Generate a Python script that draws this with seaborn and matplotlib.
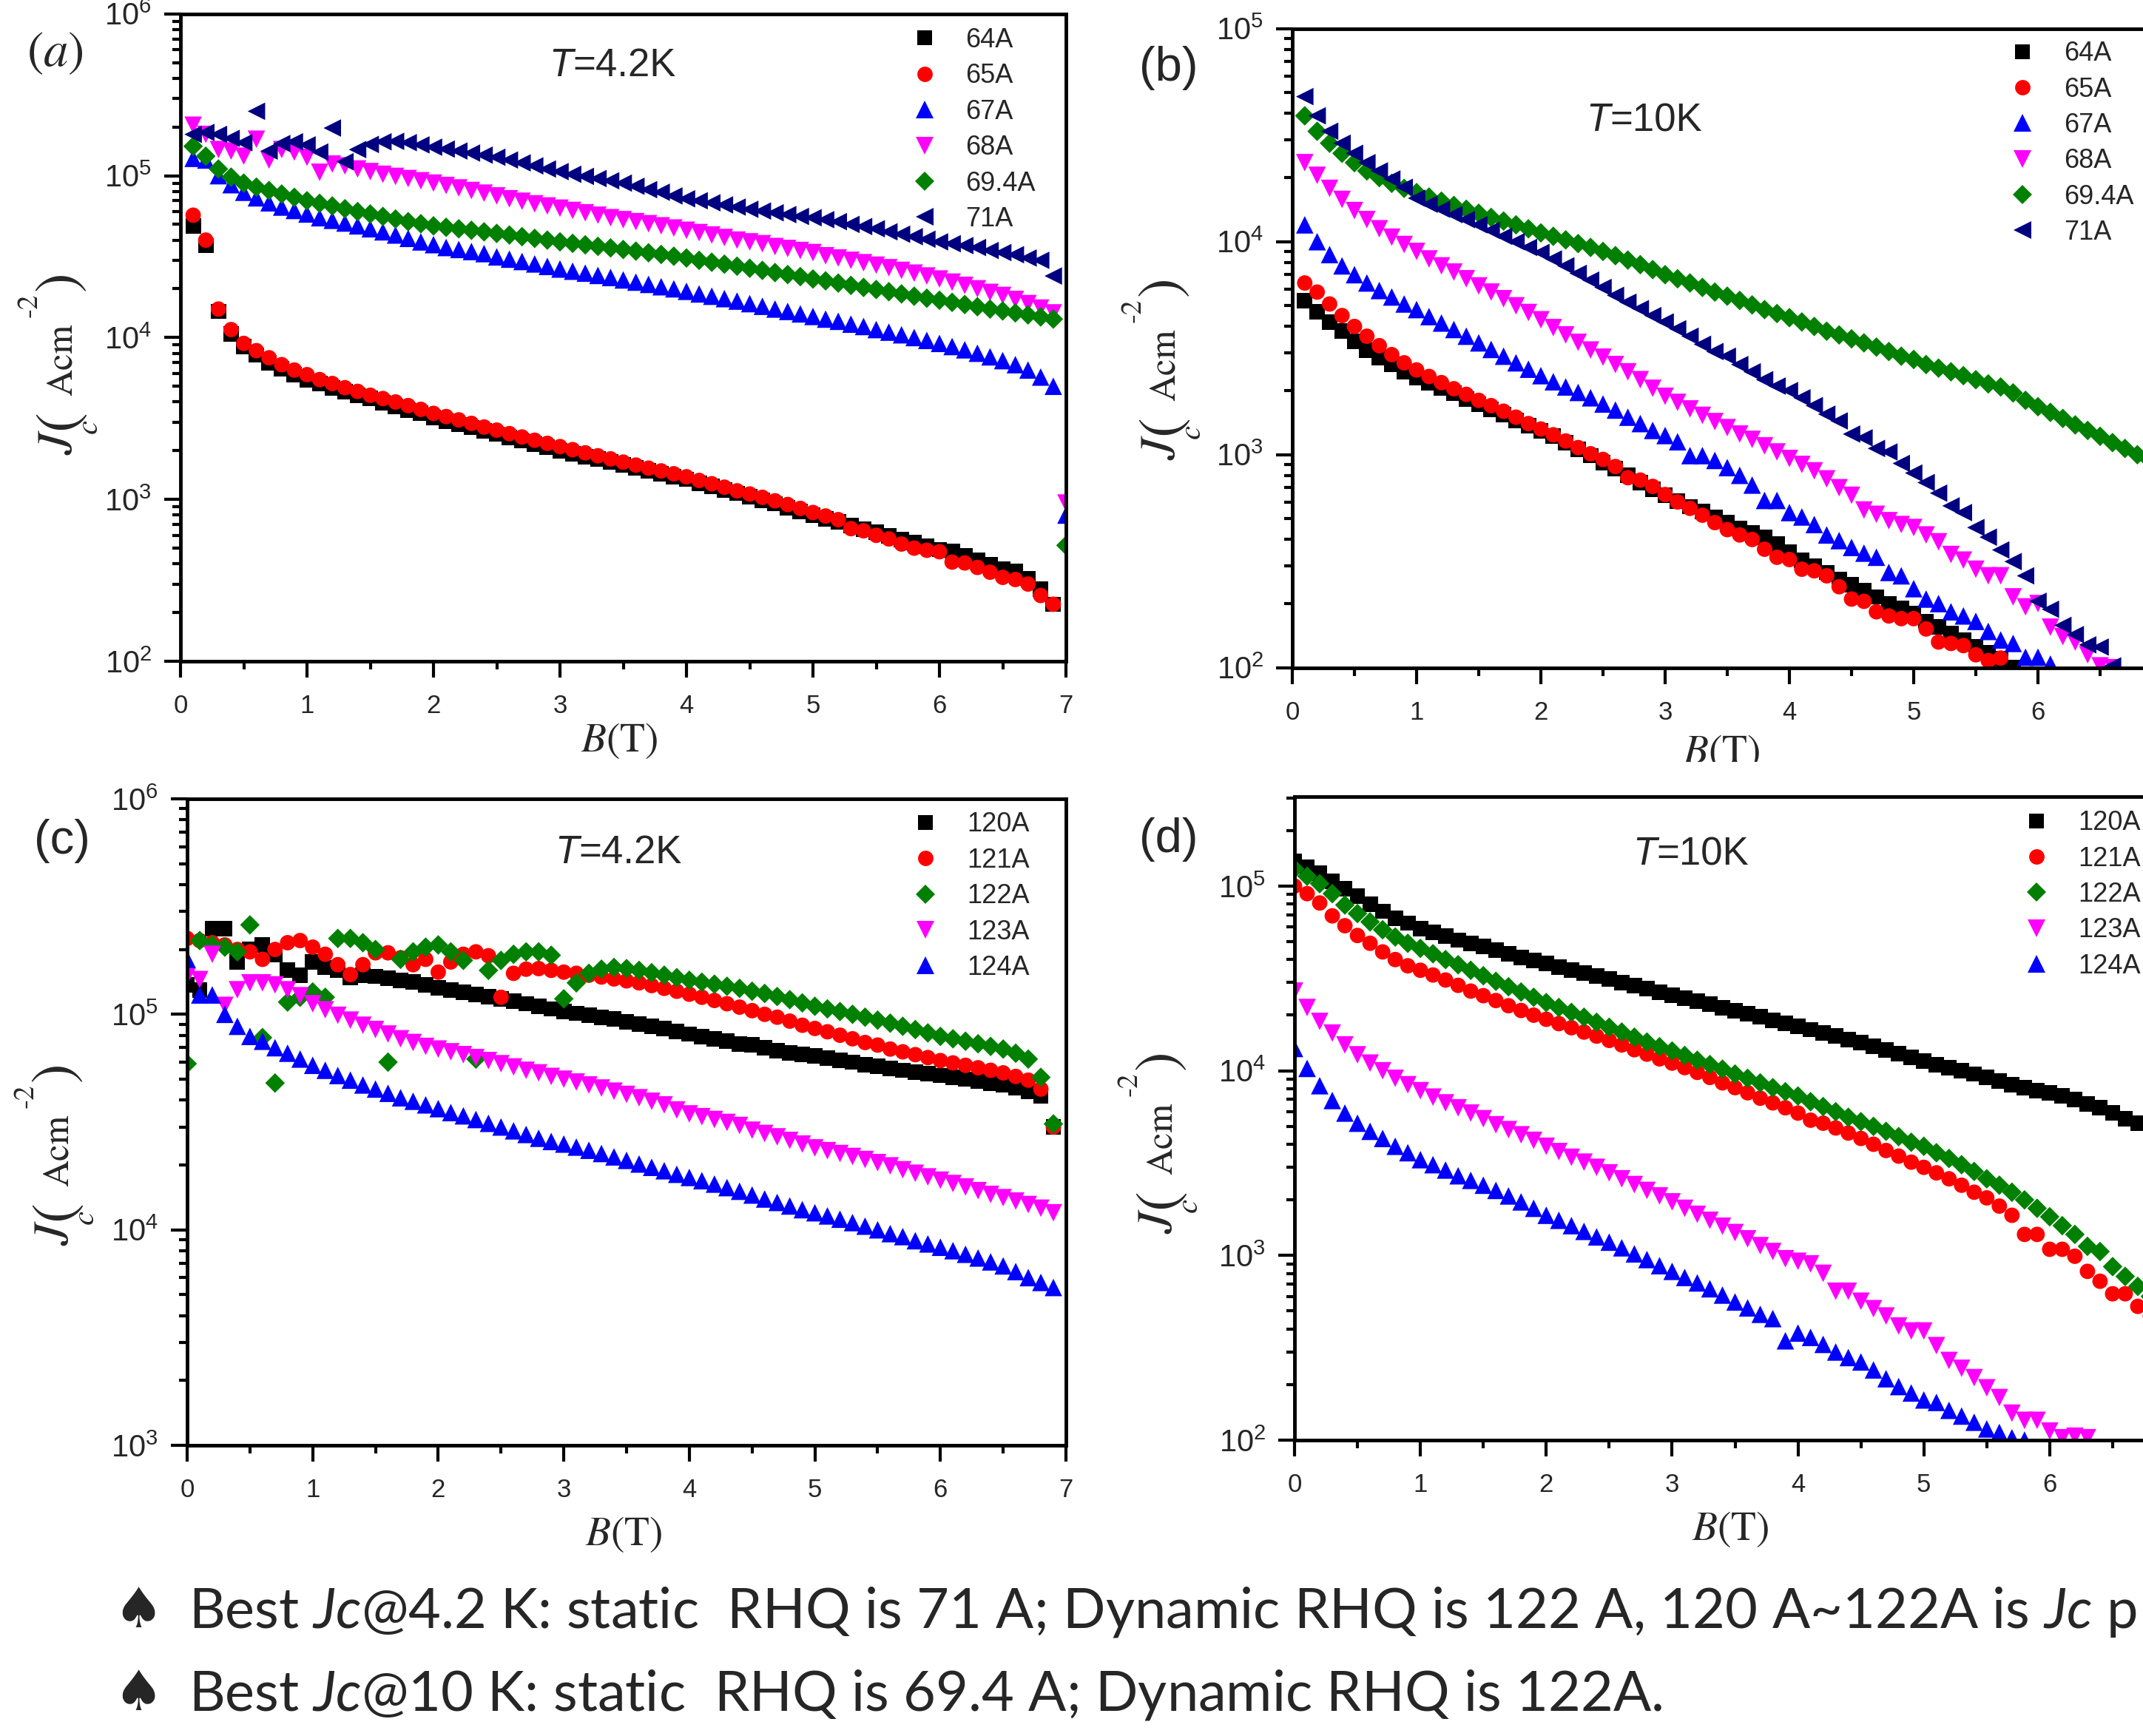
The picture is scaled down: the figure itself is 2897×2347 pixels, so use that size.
import numpy as np
import pandas as pd
import matplotlib
matplotlib.use('Agg')
import matplotlib.pyplot as plt
import seaborn as sns
from matplotlib.lines import Line2D
from matplotlib.patches import Rectangle
from matplotlib.ticker import MultipleLocator, LogLocator, NullFormatter, FixedFormatter, FixedLocator

W, H = 2897, 2347

# ---------------- data (Jc in A/cm^2, B step 0.1 T) ----------------
# panel (a): static RHQ, T = 4.2 K, B starts at 0.1 T
a_start = 0.1
a_64 = [4.9e4, 3.7e4, 1.45e4, 1.05e4, 8.8e3, 7.8e3, 7.0e3, 6.4e3, 5.9e3, 5.5e3,
        5.2e3, 4.9e3, 4.65e3, 4.4e3, 4.2e3, 3.95e3, 3.75e3, 3.55e3, 3.4e3, 3.2e3,
        3.05e3, 2.9e3, 2.78e3, 2.65e3, 2.53e3, 2.42e3, 2.3e3, 2.2e3, 2.1e3, 2.0e3,
        1.92e3, 1.84e3, 1.77e3, 1.7e3, 1.63e3, 1.56e3, 1.5e3, 1.44e3, 1.38e3, 1.33e3,
        1.26e3, 1.2e3, 1.14e3, 1.09e3, 1.04e3, 990, 940, 890, 845, 800,
        760, 725, 690, 655, 625, 595, 565, 540, 515, 490,
        480, 450, 420, 395, 370, 360, 325, 280, 225]
a_65 = [5.7e4, 4.0e4, 1.5e4, 1.12e4, 9.2e3, 8.3e3, 7.5e3, 6.8e3, 6.3e3, 5.9e3,
        5.5e3, 5.2e3, 4.9e3, 4.65e3, 4.4e3, 4.2e3, 4.0e3, 3.8e3, 3.6e3, 3.4e3,
        3.25e3, 3.1e3, 2.95e3, 2.8e3, 2.68e3, 2.55e3, 2.43e3, 2.32e3, 2.22e3, 2.12e3,
        2.03e3, 1.94e3, 1.86e3, 1.78e3, 1.7e3, 1.63e3, 1.56e3, 1.5e3, 1.44e3, 1.38e3,
        1.31e3, 1.25e3, 1.19e3, 1.13e3, 1.08e3, 1.03e3, 980, 930, 880, 830,
        790, 750, 660, 640, 600, 570, 530, 500, 485, 475,
        410, 405, 380, 355, 330, 320, 300, 255, 225]
a_67 = [1.28e5, 1.25e5, 1.0e5, 8.8e4, 7.9e4, 7.3e4, 6.8e4, 6.4e4, 6.1e4, 5.8e4,
        5.5e4, 5.3e4, 5.1e4, 4.9e4, 4.7e4, 4.5e4, 4.3e4, 4.1e4, 3.9e4, 3.75e4,
        3.6e4, 3.5e4, 3.4e4, 3.3e4, 3.15e4, 3.05e4, 2.95e4, 2.85e4, 2.75e4, 2.65e4,
        2.57e4, 2.5e4, 2.42e4, 2.35e4, 2.27e4, 2.2e4, 2.13e4, 2.06e4, 2.0e4, 1.93e4,
        1.86e4, 1.8e4, 1.74e4, 1.68e4, 1.62e4, 1.56e4, 1.5e4, 1.45e4, 1.4e4, 1.35e4,
        1.3e4, 1.26e4, 1.21e4, 1.17e4, 1.12e4, 1.08e4, 1.04e4, 1.0e4, 9.6e3, 9.2e3,
        8.8e3, 8.4e3, 8.0e3, 7.6e3, 7.2e3, 6.8e3, 6.3e3, 5.7e3, 5.0e3, 800]
a_68 = [2.05e5, 1.8e5, 1.45e5, 1.42e5, 1.32e5, 1.68e5, 1.25e5, 1.45e5, 1.4e5, 1.3e5,
        1.05e5, 1.18e5, 1.15e5, 1.1e5, 1.06e5, 1.02e5, 9.9e4, 9.6e4, 9.3e4, 9.0e4,
        8.7e4, 8.4e4, 8.1e4, 7.8e4, 7.5e4, 7.2e4, 6.95e4, 6.7e4, 6.5e4, 6.3e4,
        6.1e4, 5.9e4, 5.7e4, 5.5e4, 5.35e4, 5.2e4, 5.05e4, 4.9e4, 4.75e4, 4.6e4,
        4.45e4, 4.3e4, 4.15e4, 4.0e4, 3.9e4, 3.8e4, 3.65e4, 3.55e4, 3.45e4, 3.35e4,
        3.2e4, 3.1e4, 3.0e4, 2.9e4, 2.8e4, 2.7e4, 2.6e4, 2.5e4, 2.4e4, 2.3e4,
        2.2e4, 2.1e4, 2.0e4, 1.9e4, 1.82e4, 1.72e4, 1.62e4, 1.52e4, 1.42e4, 950]
a_694 = [1.52e5, 1.32e5, 1.1e5, 9.8e4, 9.0e4, 8.5e4, 8.1e4, 7.7e4, 7.35e4, 7.0e4,
         6.75e4, 6.5e4, 6.25e4, 6.0e4, 5.8e4, 5.6e4, 5.4e4, 5.2e4, 5.05e4, 4.9e4,
         4.8e4, 4.7e4, 4.6e4, 4.5e4, 4.4e4, 4.3e4, 4.2e4, 4.1e4, 4.0e4, 3.9e4,
         3.82e4, 3.74e4, 3.66e4, 3.58e4, 3.5e4, 3.42e4, 3.34e4, 3.26e4, 3.18e4, 3.1e4,
         3.0e4, 2.92e4, 2.84e4, 2.76e4, 2.68e4, 2.6e4, 2.52e4, 2.45e4, 2.38e4, 2.3e4,
         2.24e4, 2.17e4, 2.1e4, 2.04e4, 1.98e4, 1.92e4, 1.86e4, 1.8e4, 1.75e4, 1.7e4,
         1.65e4, 1.6e4, 1.55e4, 1.5e4, 1.46e4, 1.42e4, 1.38e4, 1.34e4, 1.3e4, 520]
a_71 = [1.8e5, 1.85e5, 1.8e5, 1.7e5, 1.6e5, 2.5e5, 1.42e5, 1.58e5, 1.62e5, 1.55e5,
        1.4e5, 1.97e5, 1.22e5, 1.45e5, 1.56e5, 1.62e5, 1.63e5, 1.6e5, 1.55e5, 1.5e5,
        1.46e5, 1.42e5, 1.38e5, 1.34e5, 1.3e5, 1.25e5, 1.2e5, 1.15e5, 1.1e5, 1.06e5,
        1.02e5, 9.9e4, 9.6e4, 9.3e4, 9.0e4, 8.6e4, 8.2e4, 7.9e4, 7.5e4, 7.2e4,
        7.0e4, 6.8e4, 6.6e4, 6.4e4, 6.2e4, 6.05e4, 5.9e4, 5.75e4, 5.6e4, 5.5e4,
        5.35e4, 5.2e4, 5.0e4, 4.85e4, 4.7e4, 4.5e4, 4.35e4, 4.2e4, 4.05e4, 3.9e4,
        3.8e4, 3.7e4, 3.6e4, 3.45e4, 3.35e4, 3.25e4, 3.1e4, 3.0e4, 2.4e4]

# panel (b): static RHQ, T = 10 K, B starts at 0.1 T
b_start = 0.1
b_64 = [5.3e3, 4.7e3, 4.2e3, 3.8e3, 3.4e3, 3.1e3, 2.85e3, 2.65e3, 2.45e3, 2.3e3,
        2.17e3, 2.05e3, 1.94e3, 1.83e3, 1.73e3, 1.63e3, 1.54e3, 1.45e3, 1.37e3, 1.29e3,
        1.22e3, 1.14e3, 1.06e3, 990, 920, 860, 800, 740, 690, 645,
        605, 570, 540, 510, 480, 450, 430, 410, 380, 350,
        320, 300, 280, 260, 245, 230, 215, 200, 190, 180,
        165, 155, 145, 135, 125, 118, 110, 100]
b_65 = [6.4e3, 5.8e3, 5.1e3, 4.5e3, 4.0e3, 3.6e3, 3.25e3, 2.95e3, 2.7e3, 2.5e3,
        2.33e3, 2.18e3, 2.04e3, 1.92e3, 1.8e3, 1.7e3, 1.6e3, 1.5e3, 1.4e3, 1.32e3,
        1.24e3, 1.16e3, 1.08e3, 1.01e3, 950, 880, 780, 760, 710, 650,
        600, 560, 520, 480, 445, 420, 400, 360, 330, 322,
        290, 285, 270, 240, 210, 205, 183, 175, 170, 170,
        152, 132, 130, 127, 115, 108, 111]
b_67 = [1.2e4, 1.0e4, 8.7e3, 7.7e3, 7.0e3, 6.4e3, 5.9e3, 5.5e3, 5.1e3, 4.8e3,
        4.45e3, 4.15e3, 3.87e3, 3.6e3, 3.35e3, 3.12e3, 2.9e3, 2.7e3, 2.52e3, 2.35e3,
        2.2e3, 2.08e3, 1.96e3, 1.85e3, 1.73e3, 1.62e3, 1.5e3, 1.4e3, 1.3e3, 1.23e3,
        1.15e3, 990, 990, 940, 870, 800, 720, 610, 610, 535,
        510, 470, 420, 395, 367, 345, 330, 280, 270, 235,
        210, 200, 183, 175, 165, 148, 135, 130, 112, 112,
        104]
b_68 = [2.35e4, 2.05e4, 1.78e4, 1.58e4, 1.4e4, 1.27e4, 1.15e4, 1.05e4, 9.7e3, 9.0e3,
        8.3e3, 7.7e3, 7.2e3, 6.7e3, 6.2e3, 5.8e3, 5.4e3, 5.0e3, 4.65e3, 4.3e3,
        3.95e3, 3.65e3, 3.37e3, 3.1e3, 2.87e3, 2.65e3, 2.45e3, 2.25e3, 2.05e3, 1.88e3,
        1.76e3, 1.64e3, 1.53e3, 1.43e3, 1.34e3, 1.25e3, 1.18e3, 1.1e3, 1.03e3, 960,
        900, 840, 770, 700, 645, 550, 525, 490, 470, 455,
        420, 390, 340, 320, 290, 270, 270, 215, 193, 200,
        155, 140, 132, 115, 102, 100]
b_694 = [3.9e4, 3.3e4, 2.9e4, 2.6e4, 2.35e4, 2.15e4, 2.0e4, 1.88e4, 1.78e4, 1.7e4,
         1.62e4, 1.55e4, 1.48e4, 1.42e4, 1.36e4, 1.3e4, 1.25e4, 1.2e4, 1.15e4, 1.1e4,
         1.06e4, 1.02e4, 9.8e3, 9.4e3, 9.0e3, 8.6e3, 8.2e3, 7.8e3, 7.4e3, 7.0e3,
         6.7e3, 6.4e3, 6.1e3, 5.8e3, 5.55e3, 5.3e3, 5.05e3, 4.8e3, 4.6e3, 4.4e3,
         4.2e3, 4.0e3, 3.8e3, 3.65e3, 3.5e3, 3.35e3, 3.2e3, 3.05e3, 2.9e3, 2.8e3,
         2.65e3, 2.55e3, 2.45e3, 2.35e3, 2.25e3, 2.15e3, 2.08e3, 1.95e3, 1.8e3, 1.68e3,
         1.58e3, 1.48e3, 1.38e3, 1.3e3, 1.22e3, 1.14e3, 1.07e3, 1.0e3, 940]
b_71 = [4.8e4, 3.9e4, 3.3e4, 2.9e4, 2.6e4, 2.35e4, 2.15e4, 1.97e4, 1.8e4, 1.6e4,
        1.5e4, 1.42e4, 1.34e4, 1.27e4, 1.2e4, 1.13e4, 1.06e4, 1.0e4, 9.4e3, 8.9e3,
        8.3e3, 7.7e3, 7.1e3, 6.6e3, 6.1e3, 5.6e3, 5.2e3, 4.85e3, 4.5e3, 4.2e3,
        3.9e3, 3.6e3, 3.3e3, 3.05e3, 2.9e3, 2.65e3, 2.45e3, 2.25e3, 2.1e3, 2.0e3,
        1.85e3, 1.7e3, 1.55e3, 1.44e3, 1.25e3, 1.2e3, 1.07e3, 1.03e3, 910, 820,
        740, 660, 575, 535, 455, 410, 357, 315, 270, 205,
        188, 158, 143, 128, 125, 102]

# panel (c): dynamic RHQ, T = 4.2 K, B starts at 0 T
c_start = 0.0
c_120 = [1.37e5, 1.3e5, 2.5e5, 2.5e5, 1.75e5, 2.0e5, 2.1e5, 1.9e5, 1.6e5, 1.52e5,
         1.75e5, 1.65e5, 1.6e5, 1.48e5, 1.52e5, 1.5e5, 1.47e5, 1.44e5, 1.41e5, 1.37e5,
         1.33e5, 1.3e5, 1.27e5, 1.24e5, 1.21e5, 1.18e5, 1.15e5, 1.12e5, 1.09e5, 1.06e5,
         1.03e5, 1.01e5, 9.9e4, 9.7e4, 9.5e4, 9.2e4, 9.0e4, 8.8e4, 8.6e4, 8.3e4,
         8.1e4, 7.9e4, 7.7e4, 7.5e4, 7.3e4, 7.2e4, 7.0e4, 6.8e4, 6.6e4, 6.5e4,
         6.4e4, 6.25e4, 6.1e4, 6.0e4, 5.85e4, 5.75e4, 5.6e4, 5.5e4, 5.4e4, 5.3e4,
         5.2e4, 5.1e4, 5.0e4, 4.9e4, 4.8e4, 4.7e4, 4.55e4, 4.4e4, 4.2e4, 3.0e4]
c_121 = [2.25e5, 2.2e5, 2.15e5, 2.1e5, 2.0e5, 1.95e5, 1.8e5, 2.0e5, 2.15e5, 2.2e5,
         2.05e5, 1.9e5, 1.7e5, 1.53e5, 1.7e5, 1.93e5, 1.93e5, 1.83e5, 1.7e5, 1.8e5,
         1.57e5, 1.75e5, 1.9e5, 1.95e5, 1.87e5, 1.2e5, 1.55e5, 1.62e5, 1.63e5, 1.6e5,
         1.57e5, 1.55e5, 1.52e5, 1.49e5, 1.46e5, 1.43e5, 1.4e5, 1.36e5, 1.32e5, 1.28e5,
         1.24e5, 1.2e5, 1.16e5, 1.12e5, 1.08e5, 1.04e5, 1.0e5, 9.7e4, 9.3e4, 8.9e4,
         8.6e4, 8.3e4, 8.0e4, 7.7e4, 7.4e4, 7.2e4, 6.9e4, 6.7e4, 6.5e4, 6.3e4,
         6.1e4, 5.95e4, 5.8e4, 5.65e4, 5.5e4, 5.35e4, 5.15e4, 4.95e4, 4.5e4, 3.0e4]
c_122 = [5.9e4, 2.2e5, 2.1e5, 2.05e5, 1.95e5, 2.6e5, 7.8e4, 4.8e4, 1.14e5, 1.2e5,
         1.27e5, 1.2e5, 2.25e5, 2.25e5, 2.15e5, 2.0e5, 6.0e4, 1.8e5, 1.95e5, 2.05e5,
         2.1e5, 1.95e5, 1.78e5, 6.2e4, 1.6e5, 1.78e5, 1.9e5, 1.95e5, 1.95e5, 1.88e5,
         1.18e5, 1.4e5, 1.55e5, 1.62e5, 1.65e5, 1.63e5, 1.6e5, 1.56e5, 1.52e5, 1.48e5,
         1.44e5, 1.41e5, 1.38e5, 1.35e5, 1.32e5, 1.28e5, 1.25e5, 1.21e5, 1.17e5, 1.13e5,
         1.09e5, 1.06e5, 1.03e5, 1.0e5, 9.7e4, 9.4e4, 9.1e4, 8.8e4, 8.5e4, 8.2e4,
         7.9e4, 7.7e4, 7.5e4, 7.3e4, 7.1e4, 6.9e4, 6.6e4, 6.2e4, 5.1e4, 3.1e4]
c_123 = [1.5e5, 1.45e5, 1.9e5, 1.1e5, 1.3e5, 1.4e5, 1.4e5, 1.37e5, 1.3e5, 1.22e5,
         1.12e5, 1.05e5, 9.9e4, 9.4e4, 8.9e4, 8.5e4, 8.1e4, 7.7e4, 7.4e4, 7.1e4,
         6.9e4, 6.7e4, 6.5e4, 6.3e4, 6.1e4, 5.9e4, 5.7e4, 5.5e4, 5.35e4, 5.15e4,
         5.0e4, 4.85e4, 4.7e4, 4.55e4, 4.4e4, 4.25e4, 4.1e4, 3.95e4, 3.8e4, 3.6e4,
         3.45e4, 3.35e4, 3.25e4, 3.15e4, 3.05e4, 2.9e4, 2.8e4, 2.7e4, 2.6e4, 2.5e4,
         2.4e4, 2.33e4, 2.26e4, 2.19e4, 2.12e4, 2.05e4, 1.98e4, 1.9e4, 1.83e4, 1.76e4,
         1.7e4, 1.64e4, 1.58e4, 1.52e4, 1.46e4, 1.41e4, 1.36e4, 1.31e4, 1.26e4, 1.2e4]
c_124 = [1.8e5, 1.23e5, 1.23e5, 1.0e5, 8.8e4, 7.9e4, 7.5e4, 7.0e4, 6.6e4, 6.2e4,
         5.8e4, 5.5e4, 5.2e4, 4.95e4, 4.7e4, 4.5e4, 4.3e4, 4.1e4, 3.95e4, 3.8e4,
         3.65e4, 3.5e4, 3.38e4, 3.25e4, 3.12e4, 3.0e4, 2.88e4, 2.77e4, 2.66e4, 2.57e4,
         2.5e4, 2.42e4, 2.34e4, 2.26e4, 2.18e4, 2.1e4, 2.02e4, 1.95e4, 1.88e4, 1.81e4,
         1.75e4, 1.69e4, 1.63e4, 1.57e4, 1.51e4, 1.45e4, 1.39e4, 1.34e4, 1.29e4, 1.24e4,
         1.2e4, 1.16e4, 1.12e4, 1.08e4, 1.04e4, 1.0e4, 9.6e3, 9.3e3, 8.9e3, 8.6e3,
         8.3e3, 8.0e3, 7.7e3, 7.4e3, 7.1e3, 6.8e3, 6.4e3, 6.0e3, 5.7e3, 5.4e3]

# panel (d): dynamic RHQ, T = 10 K, B starts at 0 T
d_start = 0.0
d_120 = [1.36e5, 1.26e5, 1.17e5, 1.06e5, 9.7e4, 8.8e4, 8.0e4, 7.3e4, 6.7e4, 6.3e4,
         5.9e4, 5.6e4, 5.35e4, 5.1e4, 4.9e4, 4.7e4, 4.5e4, 4.3e4, 4.1e4, 3.95e4,
         3.8e4, 3.65e4, 3.5e4, 3.37e4, 3.25e4, 3.13e4, 3.0e4, 2.9e4, 2.78e4, 2.67e4,
         2.57e4, 2.47e4, 2.38e4, 2.29e4, 2.2e4, 2.12e4, 2.04e4, 1.96e4, 1.88e4, 1.81e4,
         1.74e4, 1.67e4, 1.6e4, 1.54e4, 1.48e4, 1.42e4, 1.36e4, 1.3e4, 1.24e4, 1.18e4,
         1.13e4, 1.08e4, 1.04e4, 1.0e4, 9.6e3, 9.2e3, 8.8e3, 8.4e3, 8.1e3, 7.8e3,
         7.6e3, 7.3e3, 7.0e3, 6.6e3, 6.3e3, 5.9e3, 5.5e3, 5.2e3, 4.9e3, 4.6e3, 4.3e3]
d_121 = [1.0e5, 9.1e4, 8.1e4, 6.9e4, 6.1e4, 5.4e4, 4.9e4, 4.4e4, 4.0e4, 3.7e4,
         3.5e4, 3.3e4, 3.1e4, 2.9e4, 2.7e4, 2.55e4, 2.4e4, 2.25e4, 2.12e4, 2.0e4,
         1.9e4, 1.8e4, 1.71e4, 1.62e4, 1.54e4, 1.46e4, 1.38e4, 1.3e4, 1.23e4, 1.16e4,
         1.1e4, 1.04e4, 9.8e3, 9.2e3, 8.6e3, 8.1e3, 7.6e3, 7.1e3, 6.7e3, 6.3e3,
         5.9e3, 5.4e3, 5.2e3, 4.9e3, 4.6e3, 4.3e3, 4.0e3, 3.7e3, 3.45e3, 3.2e3,
         3.0e3, 2.8e3, 2.6e3, 2.4e3, 2.2e3, 2.05e3, 1.85e3, 1.65e3, 1.3e3, 1.3e3,
         1.08e3, 1.08e3, 990, 820, 725, 620, 620, 530, 470, 420]
d_122 = [1.24e5, 1.13e5, 1.03e5, 9.1e4, 7.9e4, 7.1e4, 6.4e4, 5.8e4, 5.3e4, 4.9e4,
         4.6e4, 4.3e4, 4.0e4, 3.75e4, 3.5e4, 3.27e4, 3.05e4, 2.85e4, 2.67e4, 2.5e4,
         2.34e4, 2.2e4, 2.07e4, 1.95e4, 1.83e4, 1.72e4, 1.62e4, 1.52e4, 1.43e4, 1.35e4,
         1.28e4, 1.21e4, 1.14e4, 1.08e4, 1.02e4, 9.6e3, 9.1e3, 8.6e3, 8.1e3, 7.7e3,
         7.3e3, 6.8e3, 6.4e3, 6.0e3, 5.6e3, 5.3e3, 5.0e3, 4.7e3, 4.4e3, 4.1e3,
         3.9e3, 3.6e3, 3.35e3, 3.1e3, 2.85e3, 2.6e3, 2.4e3, 2.2e3, 2.0e3, 1.8e3,
         1.62e3, 1.45e3, 1.3e3, 1.12e3, 1.05e3, 870, 770, 680, 600, 530]
d_123 = [2.7e4, 2.2e4, 1.85e4, 1.6e4, 1.38e4, 1.22e4, 1.1e4, 1.0e4, 9.1e3, 8.4e3,
         7.8e3, 7.2e3, 6.7e3, 6.3e3, 5.9e3, 5.5e3, 5.1e3, 4.8e3, 4.5e3, 4.2e3,
         3.9e3, 3.65e3, 3.4e3, 3.2e3, 3.0e3, 2.8e3, 2.6e3, 2.42e3, 2.25e3, 2.1e3,
         1.95e3, 1.8e3, 1.67e3, 1.55e3, 1.44e3, 1.33e3, 1.23e3, 1.13e3, 1.05e3, 960,
         930, 900, 800, 640, 640, 565, 515, 470, 415, 390,
         390, 325, 270, 245, 218, 192, 170, 140, 128, 128,
         112, 103, 105, 103]
d_124 = [1.32e4, 1.03e4, 8.3e3, 6.9e3, 5.9e3, 5.2e3, 4.7e3, 4.3e3, 3.9e3, 3.6e3,
         3.3e3, 3.1e3, 2.9e3, 2.7e3, 2.55e3, 2.4e3, 2.25e3, 2.1e3, 1.95e3, 1.8e3,
         1.65e3, 1.55e3, 1.45e3, 1.35e3, 1.26e3, 1.18e3, 1.1e3, 1.02e3, 950, 880,
         820, 760, 710, 660, 610, 560, 520, 480, 455, 345,
         380, 360, 330, 300, 280, 265, 240, 215, 195, 180,
         165, 160, 145, 135, 125, 115, 110, 103, 100]

static_labels = ['64A', '65A', '67A', '68A', '69.4A', '71A']
dynamic_labels = ['120A', '121A', '122A', '123A', '124A']

# marker, colour, marker size (points)
style = {
    '64A': ('s', '#000000', 15), '65A': ('o', '#ff0000', 15),
    '67A': ('^', '#0000ff', 17), '68A': ('v', '#ff00ff', 17),
    '69.4A': ('D', '#008000', 13.5), '71A': ('<', '#000080', 17),
    '120A': ('s', '#000000', 15), '121A': ('o', '#ff0000', 15),
    '122A': ('D', '#008000', 13.5), '123A': ('v', '#ff00ff', 17),
    '124A': ('^', '#0000ff', 17),
}


def panel_frame(start, labels, series):
    parts = []
    for lab, vals in zip(labels, series):
        b = np.round(start + 0.1 * np.arange(len(vals)), 1)
        parts.append(pd.DataFrame({'B': b, 'Jc': vals, 'I': lab}))
    return pd.concat(parts, ignore_index=True)


panels = [
    dict(df=panel_frame(a_start, static_labels, [a_64, a_65, a_67, a_68, a_694, a_71]),
         labels=static_labels, ylim=(1e2, 1e6), tag='a', temp='4.2K',
         rect=(244, 18.7, 1441, 894), leg=(0.828, 0.979), xmax_label=7,
         ylab=(97, 615), xlab=(0.496, -0.093),
         tagpos=(74, 72), tpos=(742, 103)),
    dict(df=panel_frame(b_start, static_labels, [b_64, b_65, b_67, b_68, b_694, b_71]),
         labels=static_labels, ylim=(1e2, 1e5), tag='b', temp='10K',
         rect=(1747, 38.8, 2923, 902.7), leg=(0.827, 0.981), xmax_label=6,
         ylab=(1588, 622), xlab=(0.493, -0.102),
         tagpos=(1580, 92), tpos=(2144, 177)),
    dict(df=panel_frame(c_start, dynamic_labels, [c_120, c_121, c_122, c_123, c_124]),
         labels=dynamic_labels, ylim=(1e3, 1e6), tag='c', temp='4.2K',
         rect=(253, 1080, 1441, 1954), leg=(0.828, 0.98), xmax_label=7,
         ylab=(92, 1684), xlab=(0.497, -0.108),
         tagpos=(84, 1137), tpos=(750, 1167)),
    dict(df=panel_frame(d_start, dynamic_labels, [d_120, d_121, d_122, d_123, d_124]),
         labels=dynamic_labels, ylim=(1e2, 3.05e5), tag='d', temp='10K',
         rect=(1750, 1077, 2941, 1947), leg=(0.83, 0.979), xmax_label=6,
         ylab=(1584, 1668), xlab=(0.495, -0.108),
         tagpos=(1580, 1135), tpos=(2207, 1169)),
]

sns.set_theme(style='ticks')
plt.rcParams['font.family'] = ['Liberation Sans', 'DejaVu Sans']
plt.rcParams['mathtext.fontset'] = 'custom'
plt.rcParams['mathtext.rm'] = 'Lato'
plt.rcParams['mathtext.it'] = 'Lato:italic'
plt.rcParams['mathtext.bf'] = 'Lato:bold'

fig = plt.figure(figsize=(W / 100, H / 100), dpi=100)
fig.patch.set_facecolor('white')


def fx(x):
    return x / W


def fy(y):
    return 1 - y / H


def rot_text(x, y, s, size, **kw):
    # vertical text read bottom-to-top, anchored at the baseline start
    return fig.text(fx(x), fy(y), s, fontsize=size, rotation=90,
                    rotation_mode='anchor', ha='left', va='baseline',
                    family='STIXGeneral', **kw)


def draw_ylabel(xb, yb):
    # Jc(Acm^-2) with a large J, a low subscript c and tall brackets
    rot_text(xb, yb, 'J', 48, fontstyle='italic')
    rot_text(xb + 34, yb - 29, 'c', 31, fontstyle='italic')
    rot_text(xb + 3, yb - 34, '(', 58)
    rot_text(xb, yb - 80, 'Acm', 36)
    rot_text(xb - 47, yb - 186, '-2', 28)
    rot_text(xb + 3, yb - 222, ')', 58)


for p in panels:
    x0, y0, x1, y1 = p['rect']
    ax = fig.add_axes([fx(x0), fy(y1), (x1 - x0) / W, (y1 - y0) / H])
    ax.set_facecolor('white')
    labs = p['labels']
    sns.scatterplot(data=p['df'], x='B', y='Jc', hue='I', style='I', size='I',
                    hue_order=labs, style_order=labs, size_order=labs,
                    palette={k: style[k][1] for k in labs},
                    markers={k: style[k][0] for k in labs},
                    sizes={k: style[k][2] ** 2 for k in labs},
                    linewidth=0, legend=False, ax=ax)
    ax.set_yscale('log')
    ax.set_xlim(0, 7)
    ax.set_ylim(*p['ylim'])
    xt = list(range(8))
    ax.xaxis.set_major_locator(FixedLocator(xt))
    ax.xaxis.set_major_formatter(FixedFormatter([str(v) if v <= p['xmax_label'] else ''
                                                 for v in xt]))
    ax.xaxis.set_minor_locator(MultipleLocator(0.5))
    ax.yaxis.set_major_locator(LogLocator(base=10, numticks=10))
    ax.yaxis.set_minor_locator(LogLocator(base=10, subs=np.arange(2, 10), numticks=20))
    ax.yaxis.set_minor_formatter(NullFormatter())
    for s in ax.spines.values():
        s.set_linewidth(3.5)
        s.set_color('black')
        s.set_visible(True)
    ax.tick_params(which='both', direction='out', top=False, right=False,
                   width=3, color='black')
    ax.tick_params(which='major', length=16)
    ax.tick_params(which='minor', length=8)
    ax.tick_params(axis='x', which='major', labelsize=25, pad=16)
    ax.tick_params(axis='y', which='major', labelsize=30, pad=12)

    ax.set_xlabel(r'$\mathit{B}\mathrm{(T)}$', fontsize=40, math_fontfamily='stix')
    ax.xaxis.set_label_coords(*p['xlab'])
    ax.set_ylabel('')
    draw_ylabel(*p['ylab'])

    handles = [Line2D([], [], marker=style[k][0], color=style[k][1], linestyle='',
                      markersize=style[k][2], markeredgewidth=0) for k in labs]
    ax.legend(handles, labs, loc='upper left', bbox_to_anchor=p['leg'],
              frameon=False, fontsize=26, handlelength=0.8, handletextpad=1.15,
              labelspacing=0.37, borderpad=0, borderaxespad=0)

    # temperature annotation with italic T
    tx, ty = p['tpos']
    t1 = fig.text(fx(tx), fy(ty), 'T', fontsize=38, fontstyle='italic',
                  ha='left', va='baseline')
    ax.annotate('=' + p['temp'], xy=(1, 0), xycoords=t1, ha='left', va='bottom',
                fontsize=38)

    # panel tag
    gx, gy = p['tagpos']
    if p['tag'] == 'a':
        fig.text(fx(gx), fy(gy), r'$(\mathit{a})$', fontsize=48,
                 math_fontfamily='stix', ha='center', va='center')
    else:
        fig.text(fx(gx), fy(gy), '(' + p['tag'] + ')', fontsize=47,
                 ha='center', va='center')

# the x label of panel (b) is partly covered in the original layout
fig.add_artist(Rectangle((fx(1460), fy(1064)), (2897 - 1460) / W, 34 / H,
                         transform=fig.transFigure, facecolor='white',
                         edgecolor='none', zorder=20))

# summary lines below the panels
notes = [
    r'Best $\mathit{Jc}$@4.2 K: static  RHQ is 71 A; Dynamic RHQ is 122 A, 120 A~122A is $\mathit{Jc}$ p',
    r'Best $\mathit{Jc}$@10 K: static  RHQ is 69.4 A; Dynamic RHQ is 122A.',
]
for line, base in zip(notes, [2200, 2312]):
    fig.text(fx(153), fy(base), '\u2660', fontsize=54, family='DejaVu Sans',
             ha='left', va='baseline')
    fig.text(fx(255), fy(base), line, fontsize=54.5, family=['Lato', 'DejaVu Sans'],
             ha='left', va='baseline')

fig.savefig('out.png', dpi=100)
